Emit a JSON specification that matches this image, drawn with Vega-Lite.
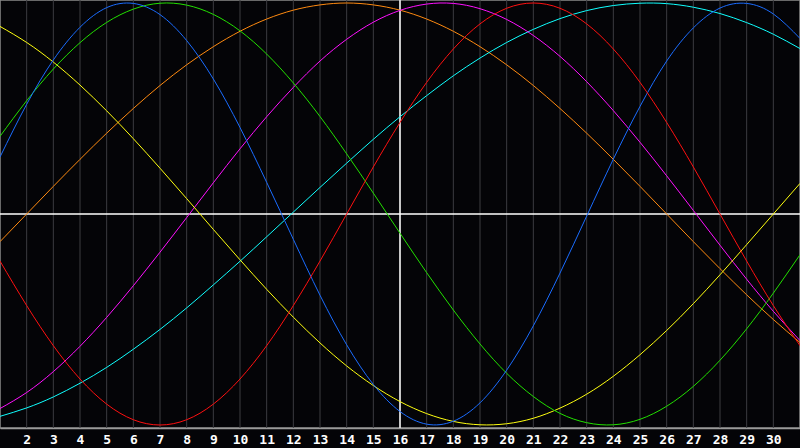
{
  "$schema": "https://vega.github.io/schema/vega-lite/v6.json",
  "width": 800,
  "height": 428,
  "padding": {"left": 0, "top": 0, "right": 0, "bottom": 20},
  "autosize": {"type": "none"},
  "background": "#040407",
  "datasets": {
    "cycles": [
      {"d": 1, "physical": 0.27, "emotional": -0.223, "intellectual": 0.368, "intuitive": -0.922, "aesthetic": 0.889, "awareness": -0.131, "spiritual": -0.959},
      {"d": 2, "physical": 0.52, "emotional": -0.434, "intellectual": 0.537, "intuitive": -0.846, "aesthetic": 0.813, "awareness": 0, "spiritual": -0.919},
      {"d": 3, "physical": 0.73, "emotional": -0.624, "intellectual": 0.687, "intuitive": -0.747, "aesthetic": 0.72, "awareness": 0.131, "spiritual": -0.867},
      {"d": 4, "physical": 0.885, "emotional": -0.782, "intellectual": 0.812, "intuitive": -0.627, "aesthetic": 0.611, "awareness": 0.259, "spiritual": -0.802},
      {"d": 5, "physical": 0.978, "emotional": -0.901, "intellectual": 0.908, "intuitive": -0.49, "aesthetic": 0.489, "awareness": 0.383, "spiritual": -0.727},
      {"d": 6, "physical": 0.998, "emotional": -0.975, "intellectual": 0.971, "intuitive": -0.34, "aesthetic": 0.357, "awareness": 0.5, "spiritual": -0.641},
      {"d": 7, "physical": 0.945, "emotional": -1, "intellectual": 0.999, "intuitive": -0.181, "aesthetic": 0.217, "awareness": 0.609, "spiritual": -0.547},
      {"d": 8, "physical": 0.822, "emotional": -0.975, "intellectual": 0.99, "intuitive": -0.017, "aesthetic": 0.073, "awareness": 0.707, "spiritual": -0.445},
      {"d": 9, "physical": 0.64, "emotional": -0.901, "intellectual": 0.946, "intuitive": 0.148, "aesthetic": -0.073, "awareness": 0.793, "spiritual": -0.336},
      {"d": 10, "physical": 0.41, "emotional": -0.782, "intellectual": 0.868, "intuitive": 0.309, "aesthetic": -0.217, "awareness": 0.866, "spiritual": -0.224},
      {"d": 11, "physical": 0.15, "emotional": -0.624, "intellectual": 0.758, "intuitive": 0.461, "aesthetic": -0.357, "awareness": 0.924, "spiritual": -0.108},
      {"d": 12, "physical": -0.12, "emotional": -0.434, "intellectual": 0.621, "intuitive": 0.6, "aesthetic": -0.489, "awareness": 0.966, "spiritual": 0.009},
      {"d": 13, "physical": -0.385, "emotional": -0.223, "intellectual": 0.462, "intuitive": 0.725, "aesthetic": -0.611, "awareness": 0.991, "spiritual": 0.126},
      {"d": 14, "physical": -0.62, "emotional": 0, "intellectual": 0.285, "intuitive": 0.828, "aesthetic": -0.72, "awareness": 1, "spiritual": 0.241},
      {"d": 15, "physical": -0.808, "emotional": 0.223, "intellectual": 0.099, "intuitive": 0.909, "aesthetic": -0.813, "awareness": 0.991, "spiritual": 0.354},
      {"d": 16, "physical": -0.936, "emotional": 0.434, "intellectual": -0.091, "intuitive": 0.965, "aesthetic": -0.889, "awareness": 0.966, "spiritual": 0.461},
      {"d": 17, "physical": -0.996, "emotional": 0.624, "intellectual": -0.278, "intuitive": 0.995, "aesthetic": -0.946, "awareness": 0.924, "spiritual": 0.561},
      {"d": 18, "physical": -0.982, "emotional": 0.782, "intellectual": -0.455, "intuitive": 0.998, "aesthetic": -0.983, "awareness": 0.866, "spiritual": 0.655},
      {"d": 19, "physical": -0.895, "emotional": 0.901, "intellectual": -0.616, "intuitive": 0.973, "aesthetic": -0.999, "awareness": 0.793, "spiritual": 0.739},
      {"d": 20, "physical": -0.74, "emotional": 0.975, "intellectual": -0.755, "intuitive": 0.922, "aesthetic": -0.994, "awareness": 0.707, "spiritual": 0.813},
      {"d": 21, "physical": -0.53, "emotional": 1, "intellectual": -0.865, "intuitive": 0.846, "aesthetic": -0.968, "awareness": 0.609, "spiritual": 0.875},
      {"d": 22, "physical": -0.28, "emotional": 0.975, "intellectual": -0.945, "intuitive": 0.747, "aesthetic": -0.92, "awareness": 0.5, "spiritual": 0.926},
      {"d": 23, "physical": -0.01, "emotional": 0.901, "intellectual": -0.989, "intuitive": 0.627, "aesthetic": -0.854, "awareness": 0.383, "spiritual": 0.964},
      {"d": 24, "physical": 0.26, "emotional": 0.782, "intellectual": -0.999, "intuitive": 0.49, "aesthetic": -0.769, "awareness": 0.259, "spiritual": 0.988},
      {"d": 25, "physical": 0.51, "emotional": 0.624, "intellectual": -0.973, "intuitive": 0.34, "aesthetic": -0.667, "awareness": 0.131, "spiritual": 0.999},
      {"d": 26, "physical": 0.725, "emotional": 0.434, "intellectual": -0.911, "intuitive": 0.181, "aesthetic": -0.552, "awareness": 0, "spiritual": 0.997},
      {"d": 27, "physical": 0.882, "emotional": 0.223, "intellectual": -0.817, "intuitive": 0.017, "aesthetic": -0.425, "awareness": -0.131, "spiritual": 0.98},
      {"d": 28, "physical": 0.976, "emotional": 0, "intellectual": -0.693, "intuitive": -0.148, "aesthetic": -0.288, "awareness": -0.259, "spiritual": 0.95},
      {"d": 29, "physical": 0.998, "emotional": -0.223, "intellectual": -0.544, "intuitive": -0.309, "aesthetic": -0.145, "awareness": -0.383, "spiritual": 0.907},
      {"d": 30, "physical": 0.948, "emotional": -0.434, "intellectual": -0.375, "intuitive": -0.461, "aesthetic": 0, "awareness": -0.5, "spiritual": 0.852},
      {"d": 31, "physical": 0.832, "emotional": -0.624, "intellectual": -0.193, "intuitive": -0.6, "aesthetic": 0.145, "awareness": -0.609, "spiritual": 0.784}
    ]
  },
  "layer": [
    {
      "data": {"name": "cycles"},
      "transform": [{"filter": "datum.d > 1 && datum.d < 31"}],
      "mark": {"type": "rule", "color": "#3c3c40", "strokeWidth": 1},
      "encoding": {
        "x": {
          "field": "d",
          "type": "quantitative",
          "scale": {"domain": [1, 31], "nice": false, "zero": false},
          "axis": {
            "title": null,
            "values": [2, 3, 4, 5, 6, 7, 8, 9, 10, 11, 12, 13, 14, 15, 16, 17, 18, 19, 20, 21, 22, 23, 24, 25, 26, 27, 28, 29, 30],
            "grid": false,
            "ticks": false,
            "domainColor": "#9a9a9a",
            "domainWidth": 1.5,
            "labelColor": "#ffffff",
            "labelFont": "DejaVu Sans Mono",
            "labelFontWeight": "bold",
            "labelFontSize": 13,
            "labelPadding": 5,
            "labelOverlap": false,
            "labelFlush": false
          }
        }
      }
    },
    {
      "data": {"values": [{"d": 16}]},
      "mark": {"type": "rule", "color": "#ffffff", "strokeWidth": 1.5},
      "encoding": {
        "x": {
          "field": "d",
          "type": "quantitative",
          "axis": {
            "title": null,
            "values": [2, 3, 4, 5, 6, 7, 8, 9, 10, 11, 12, 13, 14, 15, 16, 17, 18, 19, 20, 21, 22, 23, 24, 25, 26, 27, 28, 29, 30],
            "labelOverlap": false
          }
        }
      }
    },
    {
      "data": {"values": [{"v": 0}]},
      "mark": {"type": "rule", "color": "#ffffff", "strokeWidth": 1.5},
      "encoding": {
        "y": {
          "field": "v",
          "type": "quantitative",
          "scale": {"domain": [-1.0142, 1.0142], "nice": false, "zero": false},
          "axis": null
        }
      }
    },
    {
      "data": {"name": "cycles"},
      "transform": [
        {"fold": ["awareness", "spiritual", "intuitive", "aesthetic", "intellectual", "physical", "emotional"], "as": ["cycle", "value"]}
      ],
      "mark": {"type": "line", "interpolate": "natural", "strokeWidth": 1, "clip": true},
      "encoding": {
        "x": {
          "field": "d",
          "type": "quantitative",
          "axis": {
            "title": null,
            "values": [2, 3, 4, 5, 6, 7, 8, 9, 10, 11, 12, 13, 14, 15, 16, 17, 18, 19, 20, 21, 22, 23, 24, 25, 26, 27, 28, 29, 30],
            "labelOverlap": false
          }
        },
        "y": {"field": "value", "type": "quantitative"},
        "color": {
          "field": "cycle",
          "type": "nominal",
          "scale": {
            "domain": ["physical", "emotional", "intellectual", "intuitive", "aesthetic", "awareness", "spiritual"],
            "range": ["#1a6cff", "#ff1010", "#22e000", "#ff10ff", "#ffff10", "#ff8a10", "#10ffff"]
          },
          "legend": null
        }
      }
    }
  ],
  "config": {
    "view": {"stroke": "#8a8a8a", "strokeWidth": 1.5}
  }
}
